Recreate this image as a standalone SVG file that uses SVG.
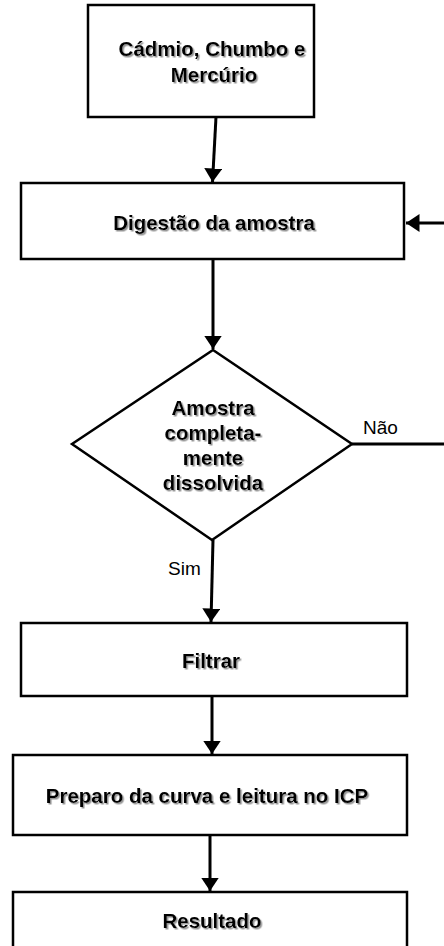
<svg xmlns="http://www.w3.org/2000/svg" width="444" height="946" viewBox="0 0 444 946">
<defs>
<style>
.box{fill:#fff;stroke:#000;stroke-width:2.5}
.lbl{font-family:"Liberation Sans",Arial,sans-serif;font-weight:bold;font-size:20.5px;fill:#000;text-anchor:middle;filter:url(#sh)}
.edge{font-family:"Liberation Sans",Arial,sans-serif;font-size:19px;fill:#000}
.con{stroke:#000;stroke-width:3;fill:none}
</style>
<filter id="sh" x="-10%" y="-30%" width="120%" height="160%">
<feDropShadow dx="1.5" dy="1.5" stdDeviation="0.7" flood-color="#888" flood-opacity="0.9"/>
</filter>
<marker id="ah" viewBox="0 0 10 10" refX="10" refY="5" markerWidth="4.5" markerHeight="6" preserveAspectRatio="none" markerUnits="strokeWidth" orient="auto">
<path d="M0,0 L10,5 L0,10 z" fill="#000"/>
</marker>
</defs>
<rect width="444" height="946" fill="#fff"/>
<g id="n1"><rect class="box" x="88" y="5" width="226" height="112"/>
<text class="lbl" x="212" y="56">Cádmio, Chumbo e</text>
<text class="lbl" x="214" y="82">Mercúrio</text></g>
<g id="n2"><rect class="box" x="21" y="183" width="383" height="76"/>
<text class="lbl" x="214" y="230">Digestão da amostra</text></g>
<g id="n3"><polygon class="box" points="213,350 352,444 212,540 72,444"/>
<text class="lbl" x="213" y="415">Amostra</text>
<text class="lbl" x="213" y="440">completa-</text>
<text class="lbl" x="213" y="465">mente</text>
<text class="lbl" x="213" y="490">dissolvida</text></g>
<g id="n4"><rect class="box" x="21" y="623" width="386" height="73"/>
<text class="lbl" x="211" y="668">Filtrar</text></g>
<g id="n5"><rect class="box" x="13" y="755" width="394" height="80"/>
<text class="lbl" x="207" y="803">Preparo da curva e leitura no ICP</text></g>
<g id="n6"><rect class="box" x="13" y="892" width="394" height="70"/>
<text class="lbl" x="212" y="928">Resultado</text></g>
<g id="connectors">
<line class="con" x1="216" y1="117" x2="212.5" y2="182" marker-end="url(#ah)"/>
<line class="con" x1="213" y1="259" x2="213" y2="349" marker-end="url(#ah)"/>
<polyline class="con" points="352,444 444,444"/>
<line class="con" x1="444" y1="223" x2="406" y2="223" marker-end="url(#ah)"/>
<line class="con" x1="213" y1="540" x2="211" y2="622" marker-end="url(#ah)"/>
<line class="con" x1="212" y1="696" x2="212" y2="754" marker-end="url(#ah)"/>
<line class="con" x1="210" y1="835" x2="210" y2="891" stroke-width="3.5" marker-end="url(#ah)"/>
<text class="edge" x="363" y="434">Não</text>
<text class="edge" x="168" y="575">Sim</text>
</g>
</svg>
